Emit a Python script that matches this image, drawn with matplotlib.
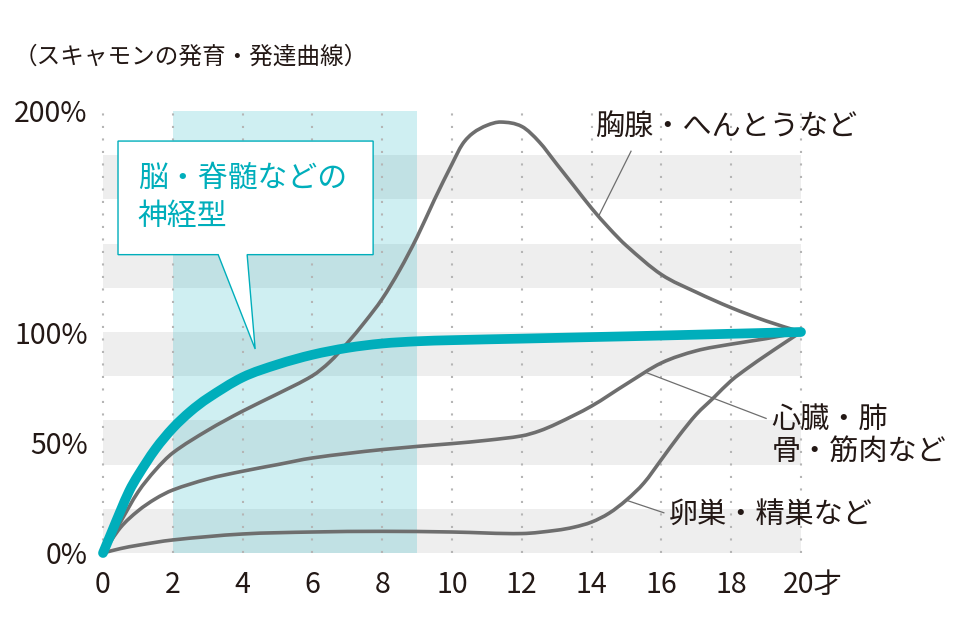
import matplotlib
matplotlib.use("Agg")
import matplotlib.pyplot as plt
from matplotlib.patches import Polygon, PathPatch
from matplotlib.path import Path
from matplotlib.transforms import ScaledTranslation

plt.rcParams['font.family'] = ['Noto Sans CJK JP', 'DejaVu Sans']

# ====================
# Data
# ====================
x_ticks = [0, 2, 4, 6, 8, 10, 12, 14, 16, 18, 20]
x_labels = ["0", "2", "4", "6", "8", "10", "12", "14", "16", "18", "20才"]
y_ticks = [0, 50, 100, 200]
y_labels = ["0%", "50%", "100%", "200%"]

# neural type (teal)
neural_x = [0, 0.25, 0.5, 0.75, 1, 1.5, 2, 2.5, 3, 4, 5, 6, 7, 8, 9, 10, 12, 14, 16, 18, 20]
neural_y = [0, 9.5, 19, 28, 35, 47, 56.5, 64, 70, 79.5, 85.3, 89.7, 92.8, 94.8, 95.8, 96.3, 97,
            97.7, 98.4, 99.2, 100]

# lymphoid type
lymph_x = [0, 0.5, 1, 1.5, 2, 3, 4, 5, 6, 6.5, 7, 7.5, 8, 8.5, 9, 9.5, 10, 10.3, 10.6, 11,
           11.4, 12, 12.5, 13, 13.5, 14, 14.5, 15, 16, 17, 18, 19, 20]
lymph_y = [0, 14, 27.5, 37.5, 45.3, 55.5, 64.2, 72, 80.2, 86.5, 95, 104.5, 115, 128, 143, 160,
           176, 185, 190, 193.5, 195, 193, 186, 176, 166, 156, 147, 139, 126, 118, 111, 105, 100]

# general type
general_x = [0, 0.5, 1, 1.5, 2, 3, 4, 5, 6, 8, 10, 11, 12, 12.5, 13, 14, 15, 16, 17, 18, 19, 20]
general_y = [0, 11.5, 19, 24.5, 28.5, 33.5, 37, 40, 43, 46.8, 49.5, 51, 53, 55.2, 58.5, 66.5,
             76.5, 86, 91.5, 94.5, 97, 100]

# reproductive type
repro_x = [0, 0.5, 1, 2, 4, 6, 8, 10, 12, 13, 13.5, 14, 14.5, 15, 15.5, 16, 16.5, 17, 17.5,
           18, 18.5, 19, 19.5, 20]
repro_y = [0, 2, 3.5, 5.9, 8.6, 9.5, 9.8, 9.5, 8.8, 10.3, 11.7, 14, 18, 24, 31.7, 42.3, 53,
           62.7, 70.3, 78, 84, 89.5, 94.8, 100]

band_ranges = [(0, 20), (40, 60), (80, 100), (120, 140), (160, 180)]
highlight_span = (2, 9)

TEAL = "#00aebb"
GRAY = "#6e6e6e"
DARK = "#231815"


def smooth_path(xs, ys):
    # cubic Hermite segments through the read points (drawn as bezier curves)
    n = len(xs)
    slopes = []
    for i in range(n):
        a = max(i - 1, 0)
        b = min(i + 1, n - 1)
        slopes.append((ys[b] - ys[a]) / (xs[b] - xs[a]))
    verts = [(xs[0], ys[0])]
    codes = [Path.MOVETO]
    for i in range(n - 1):
        h = xs[i + 1] - xs[i]
        verts += [(xs[i] + h / 3, ys[i] + slopes[i] * h / 3),
                  (xs[i + 1] - h / 3, ys[i + 1] - slopes[i + 1] * h / 3),
                  (xs[i + 1], ys[i + 1])]
        codes += [Path.CURVE4] * 3
    return Path(verts, codes)


# ====================
# Figure
# ====================
fig = plt.figure(figsize=(9.6, 6.4), dpi=100)
ax = fig.add_axes([103 / 960, 87 / 640, 698 / 960, 442 / 640])
ax.set_xlim(0, 20)
ax.set_ylim(0, 200)
for s in ax.spines.values():
    s.set_visible(False)

# background bands
for lo, hi in band_ranges:
    ax.axhspan(lo, hi, color="#eeeeee", lw=0, zorder=0)

# neural period highlight
ax.axvspan(highlight_span[0], highlight_span[1], color=TEAL, alpha=0.19, lw=0, zorder=1)

# dotted vertical grid
for xt in x_ticks:
    ax.plot([xt, xt], [0, 200], color="#b5b5b5", lw=1.5, ls=(0, (1, 5)), zorder=2, clip_on=False)

# curves
for xs, ys in [(repro_x, repro_y), (general_x, general_y), (lymph_x, lymph_y)]:
    p = PathPatch(smooth_path(xs, ys), fill=False, edgecolor=GRAY, lw=2.6,
                  capstyle="round", joinstyle="round", zorder=3, clip_on=False)
    ax.add_patch(p)
p = PathPatch(smooth_path(neural_x, neural_y), fill=False, edgecolor=TEAL, lw=7,
              capstyle="round", joinstyle="round", zorder=4, clip_on=False)
ax.add_patch(p)

# ticks
ax.set_xticks(x_ticks)
ax.set_xticklabels(x_labels, fontsize=20.5, color=DARK)
ax.set_yticks(y_ticks)
ax.set_yticklabels(y_labels, fontsize=20.5, color=DARK)
ax.tick_params(length=0)
ax.tick_params(axis="x", pad=12)
ax.tick_params(axis="y", pad=11)
# keep "20" centred on its tick, with 才 hanging to the right
last = ax.get_xticklabels()[-1]
last.set_transform(last.get_transform() + ScaledTranslation(12 / 100, 0, fig.dpi_scale_trans))

# title
fig.text(14 / 960, 1 - 57 / 640, "（スキャモンの発育・発達曲線）", fontsize=17, color=DARK,
         va="center", ha="left")

# callout for neural type
callout = Polygon([(0.43, 186.4), (7.74, 186.4), (7.74, 135), (4.13, 135), (4.36, 92.3),
                   (3.30, 135), (0.43, 135)], closed=True, facecolor="white",
                  edgecolor=TEAL, lw=1, zorder=6, clip_on=False)
ax.add_patch(callout)
ax.text(1.0, 161, "脳・脊髄などの\n神経型", fontsize=21.5, color=TEAL, va="center", ha="left",
        linespacing=1.3, zorder=7)

# leader lines and labels
ax.plot([15.13, 14.21], [181.8, 152.7], color=GRAY, lw=0.9, zorder=5, clip_on=False)
ax.text(14.1, 193, "胸腺・へんとうなど", fontsize=21, color=DARK, va="center", ha="left",
        zorder=7, clip_on=False)

ax.plot([15.59, 19.0], [81.5, 60.9], color=GRAY, lw=0.9, zorder=5, clip_on=False)
ax.text(19.15, 53, "心臓・肺\n骨・筋肉など", fontsize=21, color=DARK, va="center", ha="left",
        linespacing=1.1, zorder=7, clip_on=False)

ax.plot([15.01, 16.07], [23.8, 18.2], color=GRAY, lw=0.9, zorder=5, clip_on=False)
ax.text(16.2, 17.3, "卵巣・精巣など", fontsize=21, color=DARK, va="center", ha="left",
        zorder=7, clip_on=False)

fig.savefig("out.png", dpi=100)
